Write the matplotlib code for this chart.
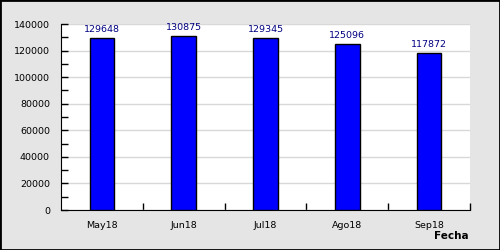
import matplotlib
matplotlib.use("Agg")
import matplotlib.pyplot as plt
from matplotlib.ticker import MultipleLocator
from matplotlib.patches import Rectangle

categories = ["May18", "Jun18", "Jul18", "Ago18", "Sep18"]
values = [129648, 130875, 129345, 125096, 117872]

fig = plt.figure(figsize=(5, 2.5), dpi=100, facecolor="#e5e5e5")
ax = fig.add_axes([61/500, 1 - 210/250, (470-61)/500, (210-24)/250])
ax.set_facecolor("white")

x = list(range(len(categories)))
bars = ax.bar(x, values, width=0.3, color="#0000ff", edgecolor="black", linewidth=1, zorder=3)
for xi, v in zip(x, values):
    ax.annotate(str(v), (xi, v), xytext=(0, 3), textcoords="offset points",
                ha="center", va="bottom", fontsize=6.8, color="#000080")

ax.set_xlim(-0.5, len(categories) - 0.5)
ax.set_ylim(0, 140000)
ax.yaxis.set_major_locator(MultipleLocator(20000))
ax.yaxis.set_minor_locator(MultipleLocator(10000))
ax.set_xticks(x)
ax.set_xticklabels(categories)
ax.set_xticks([i + 0.5 for i in x[:-1]] + [len(categories) - 0.5], minor=True)
ax.tick_params(axis="x", which="major", length=0, labelsize=6.8, pad=8)
ax.tick_params(axis="x", which="minor", direction="in", length=5, width=1)
ax.tick_params(axis="y", which="both", direction="in", length=5, width=1, labelsize=6.8, pad=8)
ax.grid(axis="y", which="major", color="#d8d8d8", linewidth=1, zorder=0)
ax.set_axisbelow(True)
for s in ["top", "right"]:
    ax.spines[s].set_visible(False)
ax.spines["left"].set_color("black")
ax.spines["bottom"].set_color("black")

fig.text(469/500, 1 - 236/250, "Fecha", ha="right", va="center", fontsize=7.5, fontweight="bold")
fig.patches.append(Rectangle((0, 0), 1, 1, transform=fig.transFigure, fill=False,
                             edgecolor="black", linewidth=2))

fig.savefig("out.png", dpi=100, facecolor=fig.get_facecolor())
